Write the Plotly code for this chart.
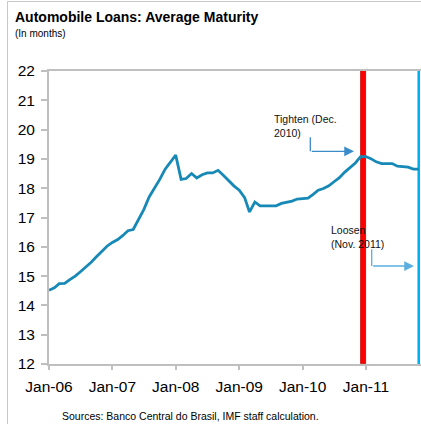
import plotly.graph_objects as go
import pandas as pd

# ---------------- data ----------------
months = pd.date_range("2006-01-01", "2011-11-01", freq="MS")
maturity = [14.52, 14.60, 14.74, 14.75, 14.88, 15.00, 15.15, 15.30, 15.47, 15.66, 15.85, 16.02,
            16.15, 16.25, 16.38, 16.55, 16.59, 16.95, 17.27, 17.70, 18.00, 18.30, 18.65, 18.90,
            19.13, 18.30, 18.33, 18.50, 18.35, 18.46, 18.52, 18.52, 18.61, 18.44, 18.24, 18.08,
            17.93, 17.68, 17.19, 17.53, 17.40, 17.40, 17.40, 17.40, 17.48, 17.52, 17.56, 17.63,
            17.64, 17.66, 17.78, 17.93, 17.99, 18.08, 18.22, 18.36, 18.55, 18.70, 18.86, 19.08,
            19.08, 19.00, 18.90, 18.84, 18.84, 18.84, 18.75, 18.73, 18.72, 18.65, 18.65]
tighten_month = "2010-12-01"
loosen_month = "2011-11-01"
y_ticks = list(range(12, 23))
x_range = ["2006-01-01", "2011-11-14"]

title = "<b>Automobile Loans: Average Maturity</b>"
subtitle = "(In months)"
source = "Sources: Banco Central do Brasil, IMF staff calculation."
tighten_label = "Tighten (Dec.<br>2010)"
loosen_label = "Loosen<br>(Nov. 2011)"

# ---------------- layout helpers ----------------
W, H = 421, 424
L, R, T, B = 49, 0, 71, 60
PW, PH = W - L - R, H - T - B
FONT = "Liberation Sans, Arial, sans-serif"

x0 = pd.Timestamp(x_range[0])
x1 = pd.Timestamp(x_range[1])
y0, y1 = y_ticks[0], y_ticks[-1]


def px2x(px):
    return x0 + (x1 - x0) * ((px - L) / PW)


def py2y(py):
    return y0 + (y1 - y0) * ((T + PH - py) / PH)


def pxp(px):
    return (px - L) / PW


def pyp(py):
    return (T + PH - py) / PH


fig = go.Figure()

# tightening bar spanning the month
t_start = pd.Timestamp(tighten_month)
t_end = t_start + pd.offsets.MonthBegin(1)
fig.add_trace(go.Bar(
    x=[t_start + (t_end - t_start) / 2], y=[y1 - y0], base=[y0],
    width=[(t_end - t_start).total_seconds() * 1000],
    marker=dict(color="#ff0000", line=dict(color="#c00000", width=0.8)),
    hoverinfo="skip", showlegend=False))

# loosening line
l_date = pd.Timestamp(loosen_month)
fig.add_trace(go.Scatter(
    x=[l_date, l_date], y=[y0, y1], mode="lines",
    line=dict(color="#00b0f0", width=2.6), hoverinfo="skip", showlegend=False))

# series
fig.add_trace(go.Scatter(
    x=months, y=maturity, mode="lines",
    line=dict(color="#1689b7", width=2.8), showlegend=False))

shapes = []
annotations = []

# outer frame
shapes.append(dict(type="line", xref="paper", yref="paper",
                   x0=pxp(7.5), x1=pxp(7.5), y0=pyp(1.5), y1=pyp(H + 5),
                   line=dict(color="#c8c8c8", width=1)))
shapes.append(dict(type="line", xref="paper", yref="paper",
                   x0=pxp(7.5), x1=pxp(W + 5), y0=pyp(1.5), y1=pyp(1.5),
                   line=dict(color="#c8c8c8", width=1)))

# tighten elbow arrow
shapes.append(dict(type="line", xref="x", yref="y",
                   x0=px2x(310.3), x1=px2x(310.3), y0=py2y(137.3), y1=py2y(151.3),
                   line=dict(color="#3a8cc8", width=1.3)))
annotations.append(dict(x=px2x(354), y=py2y(151.3), xref="x", yref="y",
                        ax=310.3 - 354, ay=0, text="", showarrow=True,
                        arrowhead=2, arrowsize=1.5, arrowwidth=1.3,
                        arrowcolor="#3a8cc8", standoff=0, startstandoff=0))
annotations.append(dict(x=px2x(272), y=py2y(125.5), xref="x", yref="y",
                        text=tighten_label, showarrow=False, xanchor="left",
                        yanchor="middle", align="left",
                        font=dict(family=FONT, size=10.5, color="#111111")))

# loosen elbow arrow
shapes.append(dict(type="line", xref="x", yref="y",
                   x0=px2x(371.7), x1=px2x(371.7), y0=py2y(249.3), y1=py2y(266),
                   line=dict(color="#5aaee0", width=1.3)))
annotations.append(dict(x=px2x(414), y=py2y(266), xref="x", yref="y",
                        ax=371.7 - 414, ay=0, text="", showarrow=True,
                        arrowhead=2, arrowsize=1.5, arrowwidth=1.3,
                        arrowcolor="#5aaee0", standoff=0, startstandoff=0))
annotations.append(dict(x=px2x(328.5), y=py2y(237), xref="x", yref="y",
                        text=loosen_label, showarrow=False, xanchor="left",
                        yanchor="middle", align="left",
                        font=dict(family=FONT, size=10.5, color="#111111")))

# titles and source
annotations.append(dict(x=pxp(13), y=pyp(16.5), xref="paper", yref="paper",
                        text=title, showarrow=False, xanchor="left", yanchor="middle",
                        font=dict(family=FONT, size=14, color="#000000")))
annotations.append(dict(x=pxp(13), y=pyp(33.5), xref="paper", yref="paper",
                        text=subtitle, showarrow=False, xanchor="left", yanchor="middle",
                        font=dict(family=FONT, size=10, color="#000000")))
annotations.append(dict(x=pxp(60), y=pyp(416), xref="paper", yref="paper",
                        text=source, showarrow=False, xanchor="left", yanchor="middle",
                        font=dict(family=FONT, size=10.5, color="#000000")))

fig.update_layout(
    width=W, height=H,
    margin=dict(l=L, r=R, t=T, b=B, pad=0),
    paper_bgcolor="white", plot_bgcolor="white",
    shapes=shapes, annotations=annotations,
    bargap=0,
    font=dict(family=FONT, size=15.5, color="#000000"),
    xaxis=dict(type="date", range=x_range, tick0="2006-01-01", dtick="M12",
               tickformat="%b-%y", ticks="outside", ticklen=4, tickwidth=1.5,
               tickcolor="#bfbfbf", showline=True, linecolor="#bfbfbf", linewidth=1.5,
               mirror=True, showgrid=False, zeroline=False,
               ticklabelstandoff=4,
               tickfont=dict(family=FONT, size=15.5, color="#000000")),
    yaxis=dict(range=[y0, y1], tickvals=y_ticks, ticks="outside", ticklen=6,
               tickwidth=1.5, tickcolor="#bfbfbf", showline=True, linecolor="#bfbfbf",
               linewidth=1.8, showgrid=False, zeroline=False,
               ticklabelstandoff=3,
               tickfont=dict(family=FONT, size=15.5, color="#000000")),
)

fig.write_html("out.html")
